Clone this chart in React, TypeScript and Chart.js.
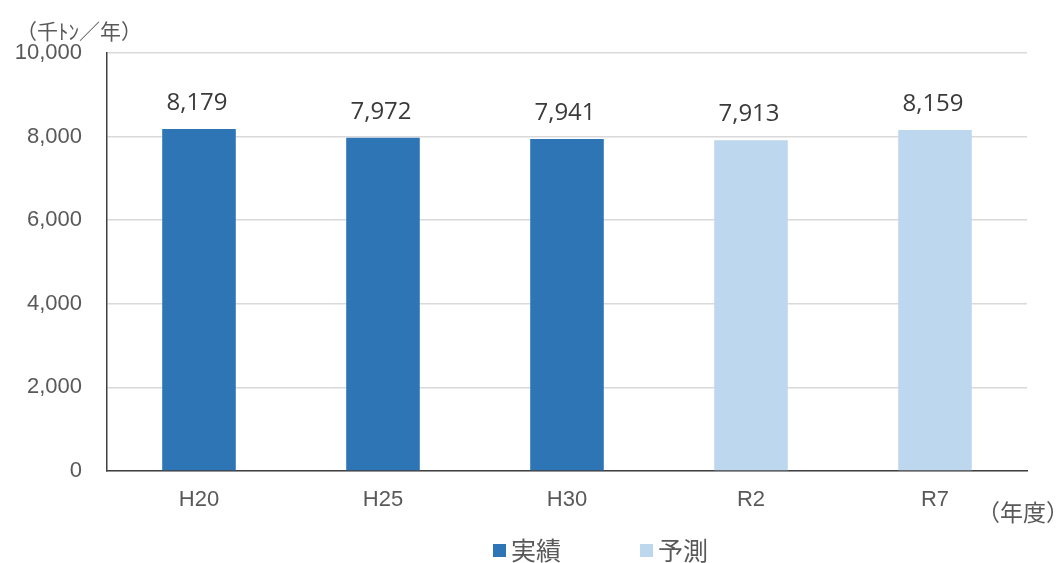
import React, { useEffect, useRef } from "react";
import { Chart, registerables } from "chart.js";

Chart.register(...registerables);

const categories = ["H20", "H25", "H30", "R2", "R7"];
const actualLabel = "実績";
const forecastLabel = "予測";
const actualValues = [8179, 7972, 7941, null, null];
const forecastValues = [null, null, null, 7913, 8159];
const yTicks = [0, 2000, 4000, 6000, 8000, 10000];
const yUnit = "（千ﾄﾝ／年）";
const xUnit = "（年度）";

const DARK = "#2E75B6";
const LIGHT = "#BDD7EE";
const TEXT = "#595959";
const JP = '"Noto Sans CJK JP", "Noto Sans", sans-serif';

const fmt = (v: number) => v.toLocaleString("en-US");

const labelsPlugin = {
  id: "customLabels",
  afterDatasetsDraw(chart: any) {
    const ctx = chart.ctx;
    ctx.save();
    ctx.font = '24px "Open Sans", sans-serif';
    ctx.fillStyle = "#3a3a3a";
    ctx.textAlign = "center";
    ctx.textBaseline = "alphabetic";
    chart.data.datasets.forEach((ds: any, di: number) => {
      const meta = chart.getDatasetMeta(di);
      meta.data.forEach((bar: any, i: number) => {
        const v = ds.data[i];
        if (v == null) return;
        ctx.fillText(fmt(v), bar.x - 2, bar.y - 19);
      });
    });
    ctx.restore();
  },
  afterDraw(chart: any) {
    const ctx = chart.ctx;
    const area = chart.chartArea;
    ctx.save();
    ctx.fillStyle = TEXT;
    ctx.font = `21px ${JP}`;
    ctx.textBaseline = "middle";
    ctx.textAlign = "left";
    ctx.fillText(yUnit, 16, area.top - 22);
    ctx.font = `23px ${JP}`;
    ctx.fillText(xUnit, area.right - 50, area.bottom + 41);
    // legend
    const items = chart.data.datasets.map((ds: any) => ({
      text: ds.label,
      color: ds.backgroundColor,
    }));
    ctx.font = `25px ${JP}`;
    const y = area.bottom + 79;
    let x = 493;
    items.forEach((it: any) => {
      ctx.fillStyle = it.color;
      ctx.fillRect(x, y - 6, 13, 13);
      ctx.fillStyle = TEXT;
      ctx.textAlign = "left";
      ctx.fillText(it.text, x + 18, y);
      x += 147;
    });
    ctx.restore();
  },
};

export default function App() {
  const ref = useRef<HTMLCanvasElement>(null);
  useEffect(() => {
    if (!ref.current) return;
    const chart = new Chart(ref.current, {
      type: "bar",
      data: {
        labels: categories,
        datasets: [
          {
            label: actualLabel,
            data: actualValues,
            backgroundColor: DARK,
            categoryPercentage: 0.8,
            barPercentage: 0.5,
          },
          {
            label: forecastLabel,
            data: forecastValues,
            backgroundColor: LIGHT,
            categoryPercentage: 0.8,
            barPercentage: 0.5,
          },
        ],
      },
      options: {
        animation: false,
        responsive: false,
        maintainAspectRatio: false,
        layout: { padding: { top: 53, right: 34, left: 0, bottom: 0 } },
        plugins: {
          legend: { display: false },
          tooltip: { enabled: false },
        },
        scales: {
          x: {
            stacked: true,
            grid: { display: false, drawTicks: false },
            border: { display: true, color: "#404040", width: 1.5 },
            ticks: {
              color: TEXT,
              font: { family: '"Liberation Sans", Arial, sans-serif', size: 22 },
              padding: 16,
            },
            afterFit: (s: any) => {
              s.height = 92;
            },
          },
          y: {
            stacked: true,
            min: 0,
            max: 10000,
            afterBuildTicks: (s: any) => {
              s.ticks = yTicks.map((v) => ({ value: v }));
            },
            grid: { color: "#D9D9D9", lineWidth: 1.5, drawTicks: false },
            border: { display: true, color: "#404040", width: 1.5 },
            ticks: {
              color: TEXT,
              font: { family: '"Liberation Sans", Arial, sans-serif', size: 22 },
              padding: 25,
              callback: (v: any) => fmt(Number(v)),
            },
            afterFit: (s: any) => {
              s.width = 107;
            },
          },
        },
      },
      plugins: [labelsPlugin],
    });
    return () => chart.destroy();
  }, []);
  return (
    <div style={{ position: "fixed", left: 0, top: 0, width: 1061, height: 563, background: "#fff" }}>
      <canvas ref={ref} width={1061} height={563} style={{ width: 1061, height: 563 }} />
    </div>
  );
}
